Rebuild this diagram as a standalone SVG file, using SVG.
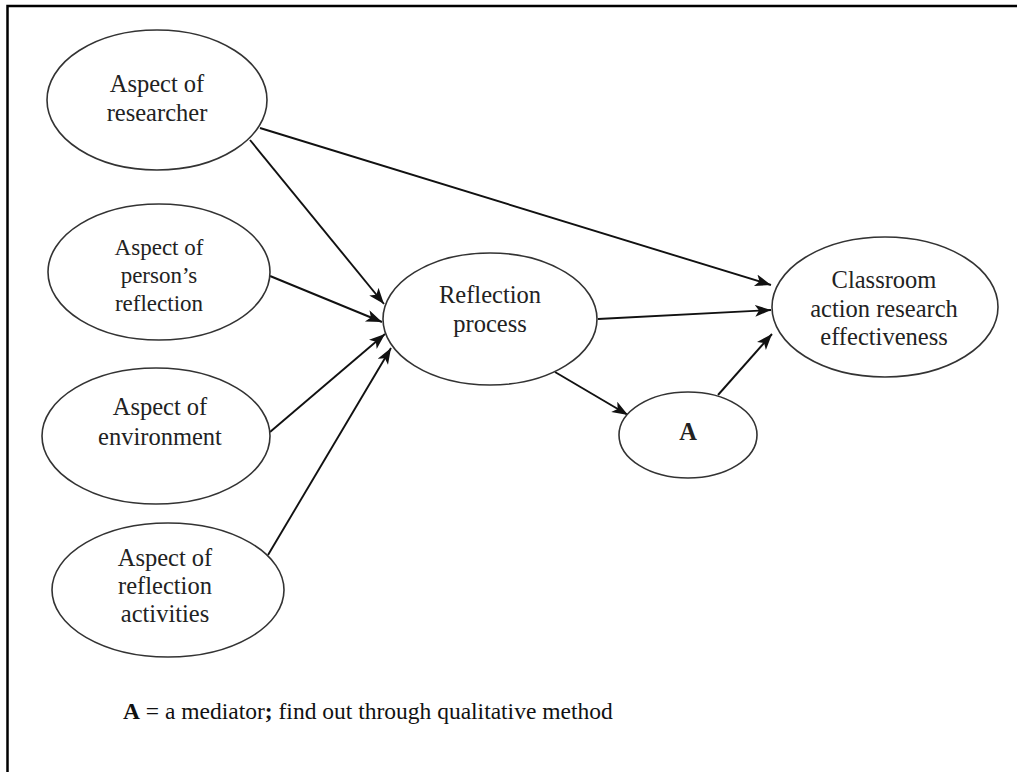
<svg xmlns="http://www.w3.org/2000/svg" width="1017" height="772" viewBox="0 0 1017 772">
<style>
.node ellipse{fill:#fff;stroke:#333;stroke-width:1.6}
.node text{font-family:"Liberation Serif","Times New Roman",serif;font-size:24.5px;fill:#222;text-anchor:middle}
.sm text{font-size:23px}
.conn line{stroke:#111;stroke-width:1.9}
.frame{stroke:#000;stroke-width:2.5;fill:none}
.note{font-family:"Liberation Serif","Times New Roman",serif;font-size:23.5px;fill:#111}
</style>
<defs>
<marker id="ah" markerUnits="userSpaceOnUse" markerWidth="18" markerHeight="14" refX="16" refY="6" orient="auto" viewBox="0 0 18 14">
<path d="M0,0 L16,6 L0,12 L4,6 z" fill="#111"/>
</marker>
</defs>
<rect width="1017" height="772" fill="#fff"/>
<path class="frame" d="M7.5,772 L7.5,6 L1017,6"/>
<g class="conn">
<line x1="250" y1="140" x2="384" y2="304" marker-end="url(#ah)"/>
<line x1="270" y1="276" x2="382" y2="322" marker-end="url(#ah)"/>
<line x1="270" y1="432" x2="385" y2="334" marker-end="url(#ah)"/>
<line x1="268" y1="555" x2="391" y2="348" marker-end="url(#ah)"/>
<line x1="260" y1="128" x2="771" y2="285" marker-end="url(#ah)"/>
<line x1="598" y1="319" x2="771" y2="310" marker-end="url(#ah)"/>
<line x1="718" y1="395" x2="772" y2="334" marker-end="url(#ah)"/>
<line x1="555" y1="372" x2="628" y2="415" marker-end="url(#ah)"/>
</g>
<g id="researcher" class="node">
<ellipse cx="157" cy="100" rx="110" ry="70"/>
<text x="157" y="92">Aspect of</text>
<text x="157" y="121">researcher</text>
</g>
<g id="persons-reflection" class="node sm">
<ellipse cx="159" cy="272" rx="111" ry="68"/>
<text x="159" y="255">Aspect of</text>
<text x="159" y="283">person’s</text>
<text x="159" y="311">reflection</text>
</g>
<g id="environment" class="node">
<ellipse cx="156" cy="436" rx="114" ry="68"/>
<text x="160" y="415">Aspect of</text>
<text x="160" y="445">environment</text>
</g>
<g id="reflection-activities" class="node">
<ellipse cx="168" cy="590" rx="116" ry="67"/>
<text x="165" y="566">Aspect of</text>
<text x="165" y="594">reflection</text>
<text x="165" y="622">activities</text>
</g>
<g id="reflection-process" class="node">
<ellipse cx="490" cy="319" rx="107" ry="66"/>
<text x="490" y="303">Reflection</text>
<text x="490" y="332">process</text>
</g>
<g id="mediator-a" class="node">
<ellipse cx="688" cy="435" rx="69" ry="43"/>
<text x="688" y="440" font-weight="bold">A</text>
</g>
<g id="effectiveness" class="node">
<ellipse cx="885" cy="307" rx="113" ry="70"/>
<text x="884" y="288">Classroom</text>
<text x="884" y="317">action research</text>
<text x="884" y="345">effectiveness</text>
</g>
<text class="note" x="123" y="719"><tspan font-weight="bold">A</tspan> = a mediator<tspan font-weight="bold">;</tspan> find out through qualitative method</text>
</svg>
